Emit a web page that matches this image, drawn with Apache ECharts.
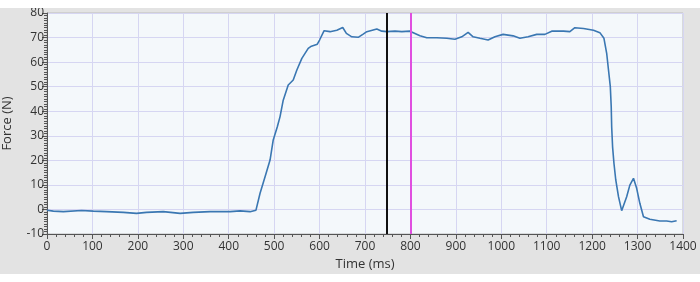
<!DOCTYPE html>
<html>
<head>
<meta charset="utf-8">
<script src="https://cdn.jsdelivr.net/npm/echarts@6/dist/echarts.min.js"></script>
<style>
  html, body { margin: 0; padding: 0; background: #fff; }
  #chart { position: absolute; left: 0; top: 8px; width: 700px; height: 266px; background: #e3e3e3; }
</style>
</head>
<body>
<div id="chart"></div>
<script>
"use strict";

// force trace
const timeMs = [
  0, 14, 36, 76, 102, 131, 168, 197, 219, 256, 293, 322, 359, 403, 425, 447, 460,
  469, 480, 491, 498, 507, 513, 520, 531, 542, 550, 561, 575, 582, 595, 600,
  610, 623, 638, 651, 659, 671, 685, 696, 704, 726, 737, 748, 766, 781, 799,
  821, 836, 858, 880, 898, 913, 927, 938, 953, 971, 986, 1004, 1026, 1041,
  1059, 1078, 1096, 1111, 1137, 1151, 1162, 1181, 1203, 1217, 1226, 1232,
  1236, 1240, 1242, 1243, 1245, 1248, 1252, 1258, 1265, 1269, 1276, 1283,
  1291, 1298, 1305, 1313, 1327, 1349, 1364, 1375, 1386
];
const forceN = [
  -0.3, -0.7, -0.9, -0.4, -0.7, -0.9, -1.2, -1.6, -1.2, -0.9, -1.6, -1.2, -0.9, -0.9, -0.6, -0.9, -0.3,
  6.6, 13.3, 20.1, 28.3, 33.7, 37.8, 44.5, 50.7, 52.7, 56.8, 61.5, 65.6, 66.5, 67.3, 69.0,
  72.8, 72.4, 73.0, 74.1, 71.7, 70.3, 70.1, 71.4, 72.4, 73.5, 72.6, 72.4, 72.6, 72.4, 72.6,
  70.7, 69.9, 69.9, 69.7, 69.3, 70.3, 72.1, 70.3, 69.7, 69.0, 70.3, 71.3, 70.7, 69.7,
  70.3, 71.3, 71.3, 72.6, 72.6, 72.4, 74.0, 73.7, 73.0, 72.0, 69.7, 63.6,
  56.8, 50.0, 41.8, 33.7, 25.5, 18.8, 12.0, 5.2, -0.5, -0.2, 5.2, 9.9,
  12.7, 8.6, 2.5, -3.0, -4.0, -4.7, -4.7, -5.0, -4.6
];
const cursorA = 748;
const cursorB = 800;

const xTicks = { min: 0, max: 1400, interval: 100 };
const yTicks = { min: -10, max: 80, interval: 10 };

let points = timeMs.map((t, i) => [t, forceN[i]]);

let myChart = echarts.init(document.getElementById('chart'));
const font = '"Open Sans", "Noto Sans", sans-serif';

let option = {
  animation: false,
  textStyle: { fontFamily: font },
  grid: {
    left: 47, right: 17, top: 5, bottom: 40,
    outerBoundsMode: 'none',
    containLabel: false,
    show: true,
    backgroundColor: '#f4f8fb',
    borderColor: '#bdbdbd',
    borderWidth: 1,
  },
  xAxis: {
    type: 'value',
    min: xTicks.min, max: xTicks.max, interval: xTicks.interval,
    name: 'Time (ms)',
    nameLocation: 'middle',
    nameGap: 24,
    nameTextStyle: { color: '#333', fontSize: 13, fontFamily: font },
    axisLine: { show: true, onZero: false, lineStyle: { color: '#555', width: 1 } },
    axisTick: { show: true, length: 5, lineStyle: { color: '#555' } },
    minorTick: { show: true, splitNumber: 5, length: 3, lineStyle: { color: '#555' } },
    axisLabel: { color: '#333', fontSize: 12, margin: 7, fontFamily: font, formatter: (v) => String(v) },
    splitLine: { show: true, lineStyle: { color: '#d6d6f2', width: 1 } },
  },
  yAxis: {
    type: 'value',
    min: yTicks.min, max: yTicks.max, interval: yTicks.interval,
    name: 'Force (N)',
    nameLocation: 'middle',
    nameGap: 33,
    nameTextStyle: { color: '#333', fontSize: 13, fontFamily: font },
    axisLine: { show: true, onZero: false, lineStyle: { color: '#555', width: 1 } },
    axisTick: { show: true, length: 5, lineStyle: { color: '#555' } },
    minorTick: { show: true, splitNumber: 10, length: 3, lineStyle: { color: '#555' } },
    axisLabel: { color: '#333', fontSize: 12, margin: 3, fontFamily: font, formatter: (v) => String(v) },
    splitLine: { show: true, lineStyle: { color: '#d6d6f2', width: 1 } },
  },
  series: [
    {
      type: 'line',
      data: points,
      showSymbol: false,
      lineStyle: { color: '#3a77b2', width: 1.6 },
      markLine: {
        symbol: 'none',
        silent: true,
        label: { show: false },
        data: [
          { xAxis: cursorA, lineStyle: { color: '#111', width: 2, type: 'solid' } },
          { xAxis: cursorB, lineStyle: { color: '#e04fe0', width: 2, type: 'solid' } },
        ],
      },
    },
  ],
};

myChart.setOption(option);
</script>
</body>
</html>
